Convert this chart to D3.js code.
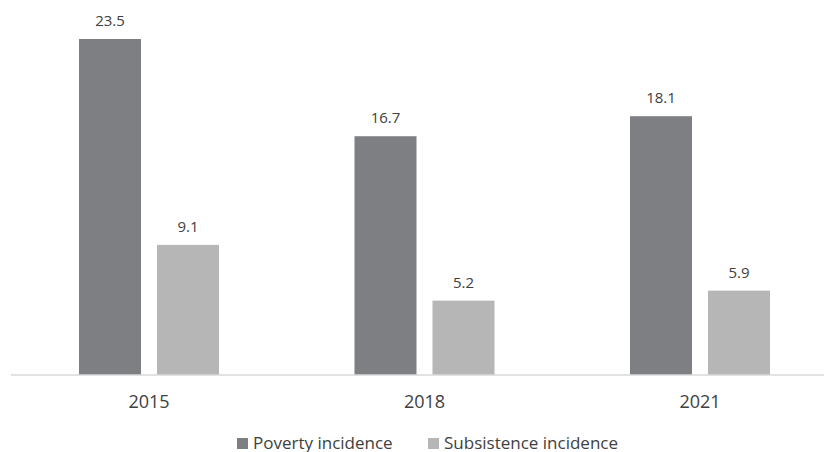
<!DOCTYPE html>
<html>
<head>
<meta charset="utf-8">
<script src="https://cdn.jsdelivr.net/npm/d3@7"></script>
<style>
  html, body { margin: 0; padding: 0; background: #fff; }
  svg { display: block; font-family: "Open Sans", "Noto Sans", sans-serif; }
</style>
</head>
<body>
<svg id="chart" width="824" height="452"></svg>
<script>
// Incidence by survey year (percent)
const years = ["2015", "2018", "2021"];
const seriesNames = ["Poverty incidence", "Subsistence incidence"];
const poverty = [23.5, 16.7, 18.1];
const subsistence = [9.1, 5.2, 5.9];
const seriesColors = ["#7e7f83", "#b6b6b7"];

const rows = years.map((y, i) => ({ year: y, values: [poverty[i], subsistence[i]] }));

const svg = d3.select("#chart");
const baseY = 375;
const font = "\"Open Sans\", \"Noto Sans\", sans-serif";

const x = d3.scaleBand().domain(years).range([11.25, 837.75]).paddingInner(0).paddingOuter(0);
const groupWidth = 140;
const xs = d3.scaleBand().domain(d3.range(seriesNames.length))
  .range([0, groupWidth]).paddingInner(16 / 78).paddingOuter(0);
const y = d3.scaleLinear().domain([0, 23.5]).range([baseY, 39]);

const g = svg.selectAll("g.year").data(rows).join("g")
  .attr("class", "year")
  .attr("transform", d => `translate(${x(d.year) + x.bandwidth() / 2 - groupWidth / 2},0)`);

g.selectAll("rect").data(d => d.values).join("rect")
  .attr("x", (v, i) => xs(i))
  .attr("width", xs.bandwidth())
  .attr("y", v => y(v))
  .attr("height", v => baseY - y(v))
  .attr("fill", (v, i) => seriesColors[i]);

g.selectAll("text.val").data(d => d.values).join("text")
  .attr("class", "val")
  .attr("x", (v, i) => xs(i) + xs.bandwidth() / 2)
  .attr("y", v => y(v) - 13)
  .attr("text-anchor", "middle")
  .attr("font-size", 15)
  .attr("fill", "#404040")
  .text(v => v.toFixed(1));

// Category axis
const axis = svg.append("g").attr("transform", `translate(0,${baseY})`)
  .call(d3.axisBottom(x).tickSize(0).tickPadding(20));
axis.select(".domain").attr("stroke", "#d9d9d9").attr("stroke-width", 1.3).attr("d", "M11,0H824");
axis.selectAll("text").attr("font-size", 18).attr("fill", "#404040").attr("font-family", font);

// Legend
const legendX = [237, 428];
const legend = svg.selectAll("g.legend").data(seriesNames).join("g")
  .attr("class", "legend")
  .attr("transform", (d, i) => `translate(${legendX[i]},438)`);
legend.append("rect").attr("width", 11).attr("height", 11)
  .attr("fill", (d, i) => seriesColors[i]);
legend.append("text").attr("x", 16).attr("y", 10.5)
  .attr("font-size", 17).attr("fill", "#404040").text(d => d);
</script>
</body>
</html>
